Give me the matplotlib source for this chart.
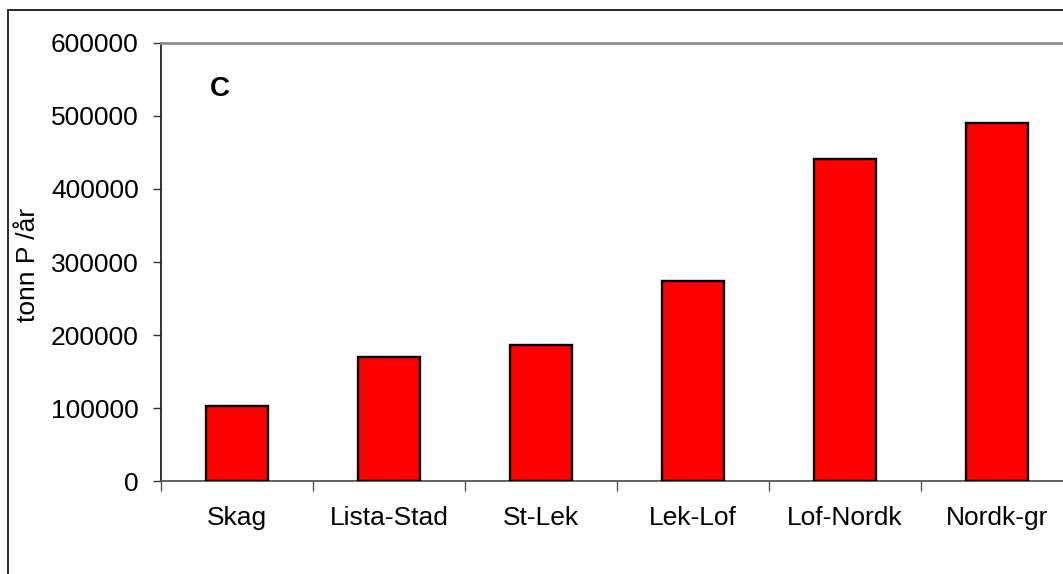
import matplotlib.pyplot as plt
import numpy as np
from matplotlib.patches import Rectangle

plt.rcParams["font.family"] = ["Liberation Sans", "DejaVu Sans"]

# Data
categories = ["Skag", "Lista-Stad", "St-Lek", "Lek-Lof", "Lof-Nordk", "Nordk-gr"]
values = [103000, 170000, 186000, 274000, 441000, 490000]
yticks = [0, 100000, 200000, 300000, 400000, 500000, 600000]

fig = plt.figure(figsize=(10.63, 5.74), dpi=100)
fig.patch.set_facecolor("white")

# Outer chart frame (only left and top edges fall inside the picture)
frame = Rectangle((8 / 1063, -0.5), 1.5, 0.5 + 0.9826, transform=fig.transFigure,
                  fill=False, edgecolor="#1a1a1a", linewidth=1.3)
fig.patches.append(frame)

ax = fig.add_axes([0.1515, 0.162, 0.858, 0.7631])

x = np.arange(len(categories))
ax.bar(x, values, width=0.41, color="#ff0000", edgecolor="black", linewidth=1.7, zorder=3)

ax.set_xlim(-0.5, len(categories) - 0.5)
ax.set_ylim(0, 600000)

# Y axis
ax.set_yticks(yticks)
ax.set_yticklabels([str(v) for v in yticks], fontsize=19)
ax.tick_params(axis="y", direction="out", length=6, width=1, pad=10, color="#333333")
fig.text(28 / 1063, 1 - 265 / 574, "tonn P /år", rotation=90, fontsize=19,
         ha="center", va="center")

# X axis: labels centred, ticks between categories
ax.set_xticks(x)
ax.set_xticklabels(categories, fontsize=19)
ax.tick_params(axis="x", which="major", length=0, pad=18)
ax.set_xticks(np.arange(-0.5, len(categories), 1.0), minor=True)
ax.tick_params(axis="x", which="minor", direction="out", length=7, width=1, color="#555555")

# Spines
ax.spines["left"].set_color("#222222")
ax.spines["left"].set_linewidth(1.3)
ax.spines["bottom"].set_color("#555555")
ax.spines["bottom"].set_linewidth(1.3)
ax.spines["top"].set_color("#8c8c8c")
ax.spines["top"].set_linewidth(2)
ax.spines["right"].set_visible(False)

# Panel letter
ax.text(0.053, 0.895, "C", transform=ax.transAxes, fontsize=20, fontweight="bold",
        ha="left", va="center")

fig.savefig("out.png", dpi=100, facecolor="white")
